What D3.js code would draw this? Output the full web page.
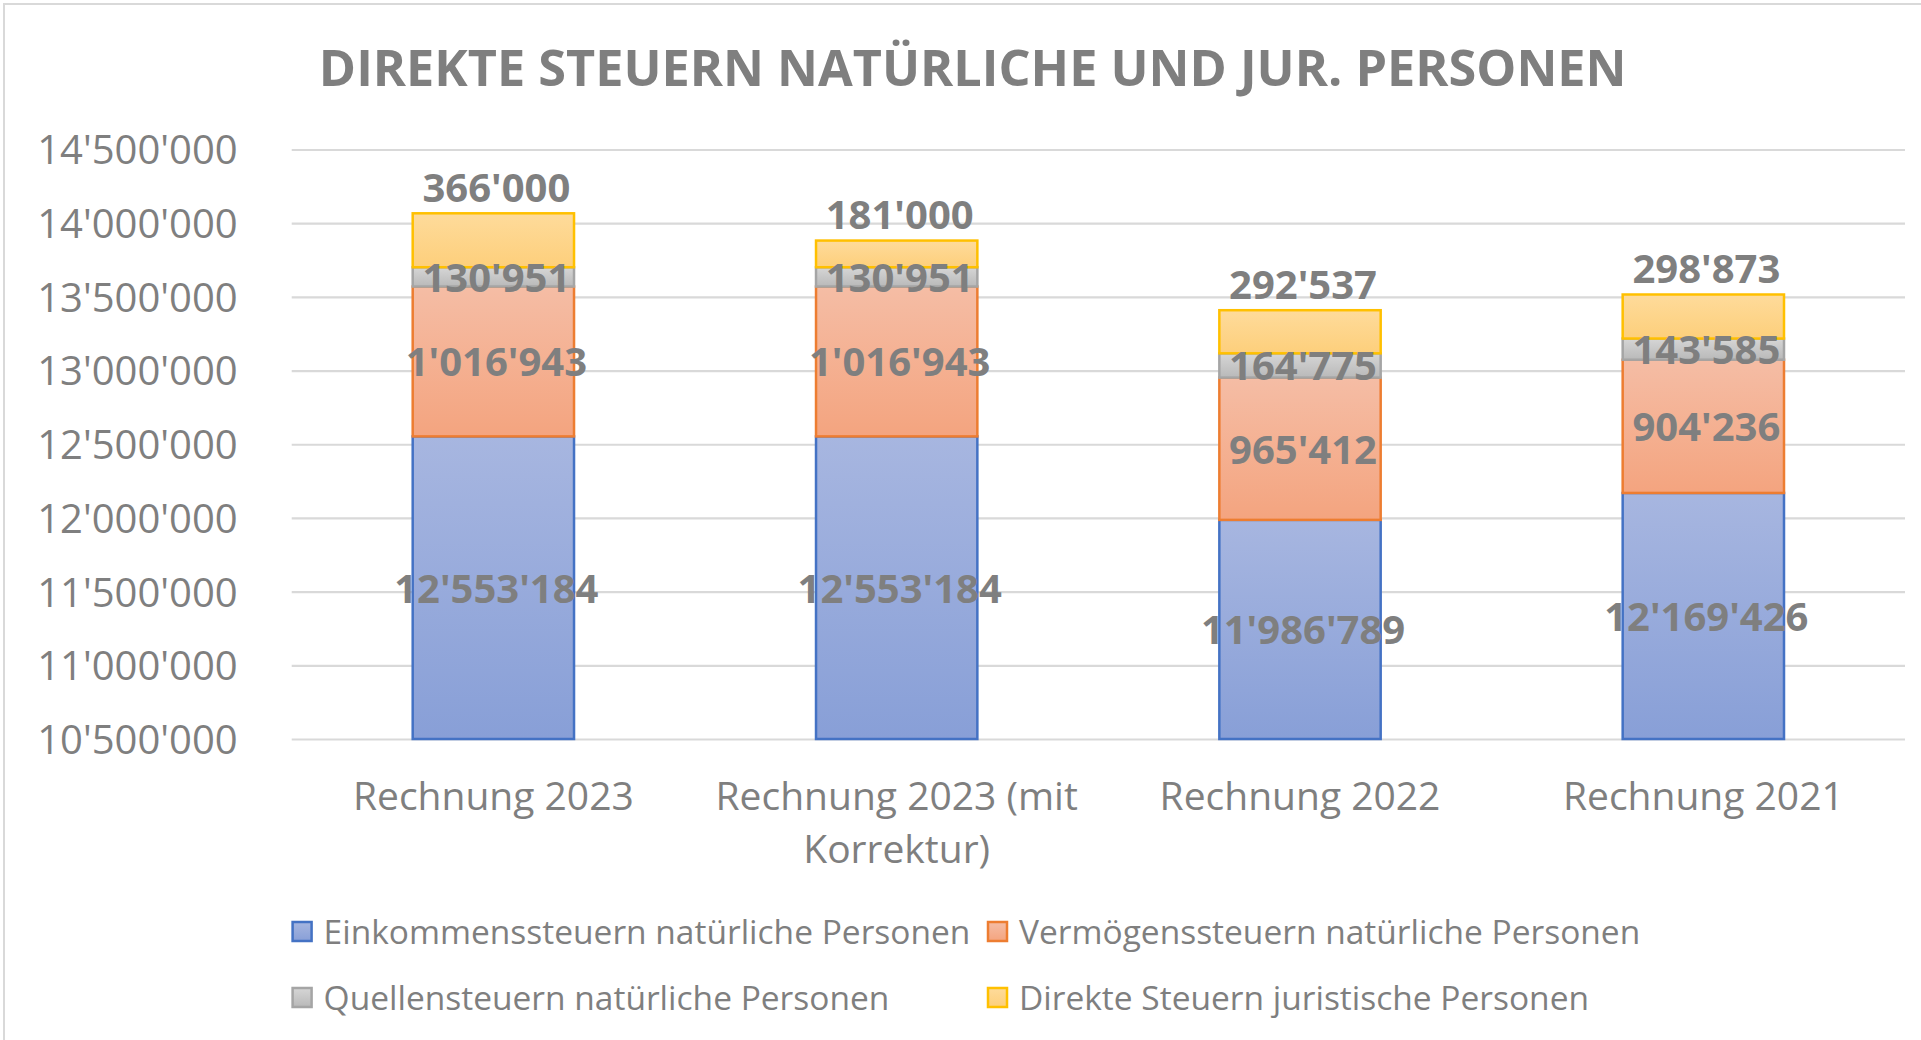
<!DOCTYPE html>
<html>
<head>
<meta charset="utf-8">
<script src="https://cdn.jsdelivr.net/npm/d3@7"></script>
<style>
  html, body { margin: 0; padding: 0; background: #fff; }
  svg { display: block; }
  text { font-family: "Open Sans", "Noto Sans", sans-serif; }
</style>
</head>
<body>
<svg id="chart" width="1921" height="1040"></svg>
<script>
// ---- data ----
const categories = ["Rechnung 2023", "Rechnung 2023 (mit Korrektur)", "Rechnung 2022", "Rechnung 2021"];
const seriesNames = [
  "Einkommenssteuern natürliche Personen",
  "Vermögenssteuern natürliche Personen",
  "Quellensteuern natürliche Personen",
  "Direkte Steuern juristische Personen"
];
const einkommen = [12553184, 12553184, 11986789, 12169426];
const vermoegen = [1016943, 1016943, 965412, 904236];
const quellen   = [130951, 130951, 164775, 143585];
const juristisch = [366000, 181000, 292537, 298873];
const yTicks = [10500000, 11000000, 11500000, 12000000, 12500000, 13000000, 13500000, 14000000, 14500000];
const title = "DIREKTE STEUERN NATÜRLICHE UND JUR. PERSONEN";

// ---- styles ----
const colors = [
  {stroke: "#4472C4", top: "#A7B6E0", bottom: "#889FD7"},
  {stroke: "#ED7D31", top: "#F5BDA5", bottom: "#F4A47F"},
  {stroke: "#A5A5A5", top: "#D6D6D6", bottom: "#B9B9B9"},
  {stroke: "#FFC000", top: "#FEDB9B", bottom: "#FDCF7B"}
];
const textColor = "#7F7F7F";
const gridColor = "#D9D9D9";

const svg = d3.select("#chart");
const W = 1921, H = 1040;
const plot = {left: 291.7, right: 1905, top: 149.5, bottom: 739};

// gradients
const defs = svg.append("defs");
colors.forEach((c, i) => {
  const g = defs.append("linearGradient").attr("id", "grad" + i)
    .attr("x1", 0).attr("y1", 0).attr("x2", 0).attr("y2", 1);
  g.append("stop").attr("offset", "0%").attr("stop-color", c.top);
  g.append("stop").attr("offset", "100%").attr("stop-color", c.bottom);
});

// chart border
svg.append("rect").attr("x", 4).attr("y", 4).attr("width", W + 20).attr("height", H + 20)
  .attr("fill", "none").attr("stroke", gridColor).attr("stroke-width", 2);

// title
svg.append("text").attr("x", 972.7).attr("y", 86)
  .attr("text-anchor", "middle").attr("font-size", 50.4).attr("font-weight", 700)
  .attr("fill", textColor).text(title);

// scales
const x = d3.scaleBand().domain(categories).range([plot.left, plot.right]).padding(0);
const y = d3.scaleLinear().domain([yTicks[0], yTicks[yTicks.length - 1]]).range([plot.bottom, plot.top]);
const fmt = v => d3.format(",")(v).replace(/,/g, "'");

// gridlines
const grid = svg.append("g").attr("transform", `translate(${plot.left},0)`)
  .call(d3.axisLeft(y).tickValues(yTicks).tickSize(-(plot.right - plot.left)).tickFormat(""));
grid.select(".domain").remove();
grid.selectAll("line").attr("stroke", gridColor).attr("stroke-width", 2.2);

// y axis labels
const yAxis = svg.append("g").attr("transform", `translate(${plot.left},0)`)
  .call(d3.axisLeft(y).tickValues(yTicks).tickSize(0).tickPadding(54).tickFormat(fmt));
yAxis.select(".domain").remove();
yAxis.selectAll("text").attr("font-size", 40).attr("fill", textColor)
  .attr("font-family", '"Open Sans", sans-serif').attr("dy", "0.36em");

// stacked data
const table = categories.map((c, i) => ({cat: c, s0: einkommen[i], s1: vermoegen[i], s2: quellen[i], s3: juristisch[i]}));
const stack = d3.stack().keys(["s0", "s1", "s2", "s3"])(table);

const barW = x.bandwidth() * 0.4;
const clampY = v => y(Math.max(v, y.domain()[0]));

const layers = svg.append("g").selectAll("g").data(stack).join("g");
layers.each(function(layer, si) {
  d3.select(this).selectAll("rect").data(layer).join("rect")
    .attr("x", d => x(d.data.cat) + (x.bandwidth() - barW) / 2)
    .attr("y", d => clampY(d[1]))
    .attr("width", barW)
    .attr("height", d => clampY(d[0]) - clampY(d[1]))
    .attr("fill", `url(#grad${si})`)
    .attr("stroke", colors[si].stroke)
    .attr("stroke-width", 2.5);
});

// data labels
const labels = svg.append("g");
stack.forEach((layer, si) => {
  layer.forEach((d, ci) => {
    const cx = x(d.data.cat) + x.bandwidth() / 2 + 3;
    const val = d[1] - d[0];
    let yy;
    if (si === 3) {
      yy = clampY(d[1]) - 11.5;
    } else {
      yy = (clampY(d[0]) + clampY(d[1])) / 2 + 15;
    }
    labels.append("text").attr("x", cx).attr("y", yy)
      .attr("text-anchor", "middle").attr("font-size", 40).attr("font-weight", 700)
      .attr("fill", textColor).text(fmt(val));
  });
});

// category labels with wrapping
const catG = svg.append("g");
categories.forEach(c => {
  const t = catG.append("text").attr("x", x(c) + x.bandwidth() / 2).attr("y", 810)
    .attr("text-anchor", "middle").attr("font-size", 39).attr("fill", textColor);
  const words = c.split(" ");
  let line = [];
  let tspan = t.append("tspan").attr("x", x(c) + x.bandwidth() / 2).attr("dy", 0);
  words.forEach(w => {
    line.push(w);
    tspan.text(line.join(" "));
    if (tspan.node().getComputedTextLength() > x.bandwidth() - 10 && line.length > 1) {
      line.pop();
      tspan.text(line.join(" "));
      line = [w];
      tspan = t.append("tspan").attr("x", x(c) + x.bandwidth() / 2).attr("dy", 53).text(w);
    }
  });
});

// legend
const legendPos = [[291.6, 932], [987, 932], [291.6, 998], [987, 998]];
const legend = svg.append("g");
seriesNames.forEach((name, i) => {
  const [lx, ly] = legendPos[i];
  legend.append("rect").attr("x", lx + 1).attr("y", ly - 10).attr("width", 19).attr("height", 19)
    .attr("fill", `url(#grad${i})`).attr("stroke", colors[i].stroke).attr("stroke-width", 2.5);
  legend.append("text").attr("x", lx + 32).attr("y", ly + 12)
    .attr("font-size", 33.5).attr("fill", textColor).text(name);
});
</script>
</body>
</html>
